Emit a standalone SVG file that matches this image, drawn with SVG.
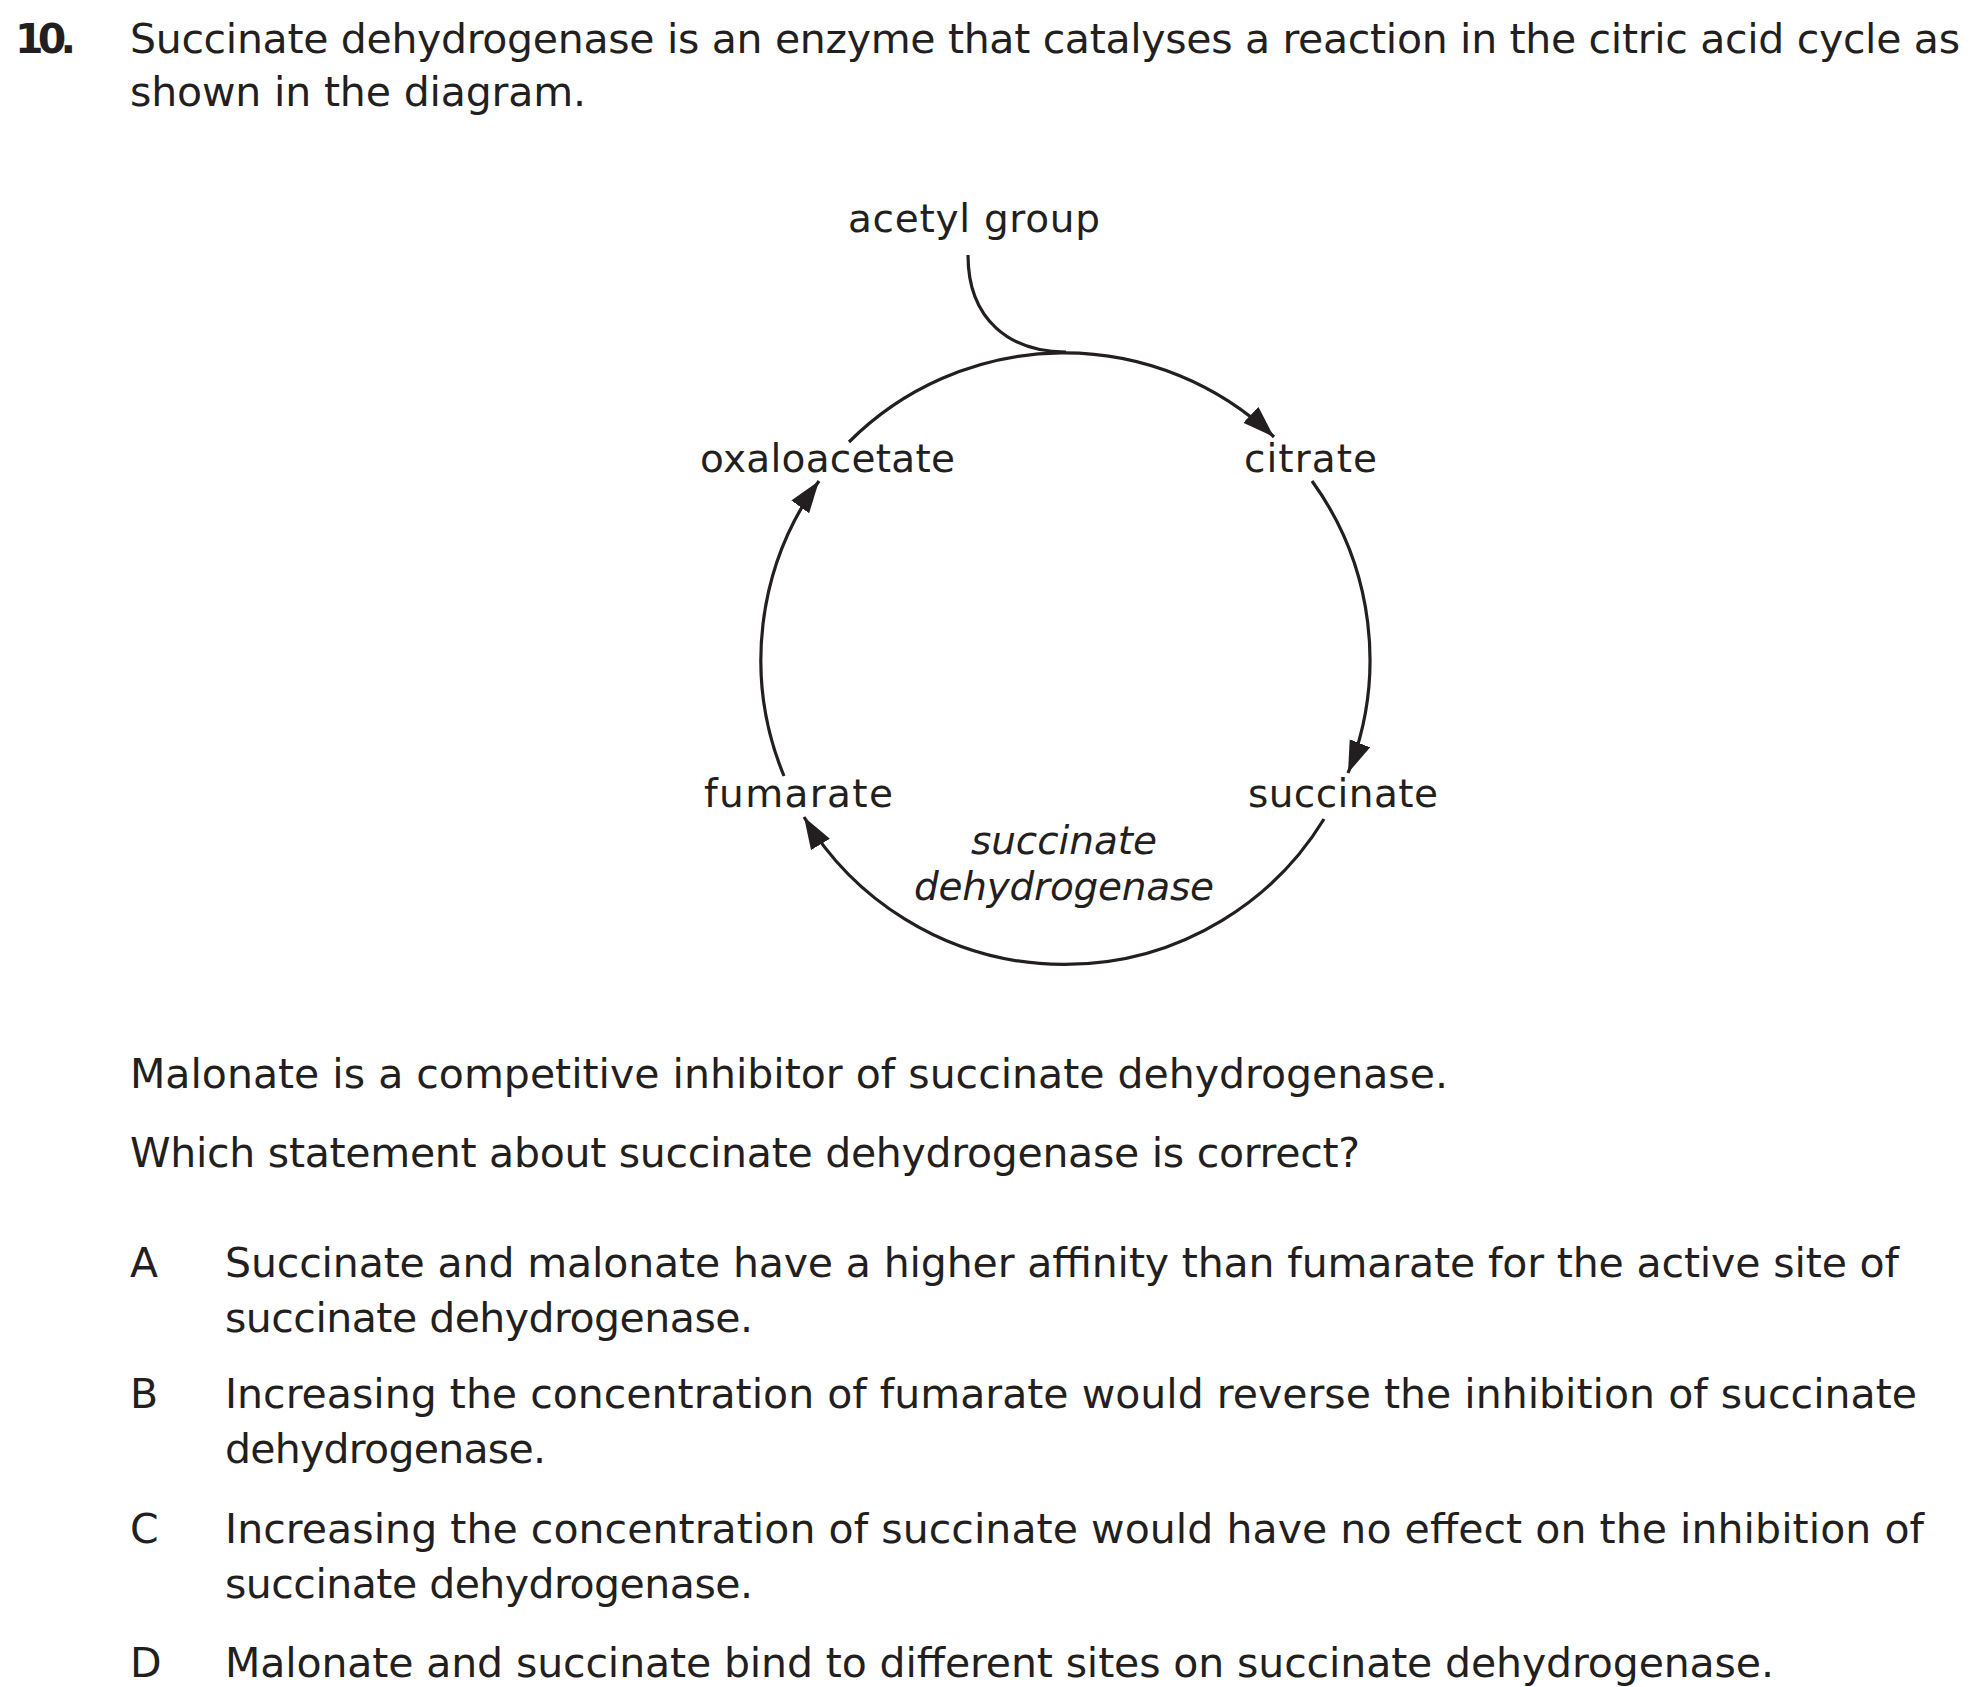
<svg xmlns="http://www.w3.org/2000/svg" width="1978" height="1687" viewBox="0 0 1978 1687">
<style>
text{font-family:"DejaVu Sans","Noto Sans",sans-serif;fill:#231f20}
.b{font-size:41px}
.l{font-size:39px}
.i{font-style:italic}
.c{fill:none;stroke:#231f20;stroke-width:3.2}
</style>
<defs>
<marker id="ah" markerUnits="userSpaceOnUse" markerWidth="34" markerHeight="24" refX="32" refY="11" orient="auto">
<path d="M0,0 L32,11 L0,22 Z" fill="#231f20"/>
</marker>
</defs>
<rect width="1978" height="1687" fill="#fff"/>
<g id="question">
<text class="b" x="15" y="53" font-weight="bold" textLength="61">10.</text>
<text class="b" x="130" y="53" textLength="1830">Succinate dehydrogenase is an enzyme that catalyses a reaction in the citric acid cycle as</text>
<text class="b" x="130" y="106" textLength="456">shown in the diagram.</text>
</g>
<g id="connectors">
<path class="c" d="M968,255 C968,320 1010,352 1066,352"/>
<path class="c" d="M849,442 A304,304 0 0 1 1274,437" marker-end="url(#ah)"/>
<path class="c" d="M1312,481 A304,304 0 0 1 1348,773" marker-end="url(#ah)"/>
<path class="c" d="M1324,819 A304,304 0 0 1 804,817" marker-end="url(#ah)"/>
<path class="c" d="M784,776 A304,304 0 0 1 819,481" marker-end="url(#ah)"/>
</g>
<g id="acetyl"><text class="l" x="974" y="232" text-anchor="middle" textLength="252">acetyl group</text></g>
<g id="oxaloacetate"><text class="l" x="700" y="472" textLength="255">oxaloacetate</text></g>
<g id="citrate"><text class="l" x="1244" y="472" textLength="133">citrate</text></g>
<g id="succinate"><text class="l" x="1248" y="807" textLength="190">succinate</text></g>
<g id="fumarate"><text class="l" x="704" y="807" textLength="189">fumarate</text></g>
<g id="enzyme">
<text class="l i" x="1064" y="854" text-anchor="middle" textLength="186">succinate</text>
<text class="l i" x="1064" y="900" text-anchor="middle" textLength="300">dehydrogenase</text>
</g>
<g id="options">
<text class="b" x="130" y="1088" textLength="1318">Malonate is a competitive inhibitor of succinate dehydrogenase.</text>
<text class="b" x="130" y="1167" textLength="1230">Which statement about succinate dehydrogenase is correct?</text>
<text class="b" x="130" y="1277">A</text>
<text class="b" x="225" y="1277" textLength="1674">Succinate and malonate have a higher affinity than fumarate for the active site of</text>
<text class="b" x="225" y="1332" textLength="528">succinate dehydrogenase.</text>
<text class="b" x="130" y="1408">B</text>
<text class="b" x="225" y="1408" textLength="1692">Increasing the concentration of fumarate would reverse the inhibition of succinate</text>
<text class="b" x="225" y="1463" textLength="321">dehydrogenase.</text>
<text class="b" x="130" y="1543">C</text>
<text class="b" x="225" y="1543" textLength="1699">Increasing the concentration of succinate would have no effect on the inhibition of</text>
<text class="b" x="225" y="1598" textLength="528">succinate dehydrogenase.</text>
<text class="b" x="130" y="1677">D</text>
<text class="b" x="225" y="1677" textLength="1549">Malonate and succinate bind to different sites on succinate dehydrogenase.</text>
</g>
</svg>
